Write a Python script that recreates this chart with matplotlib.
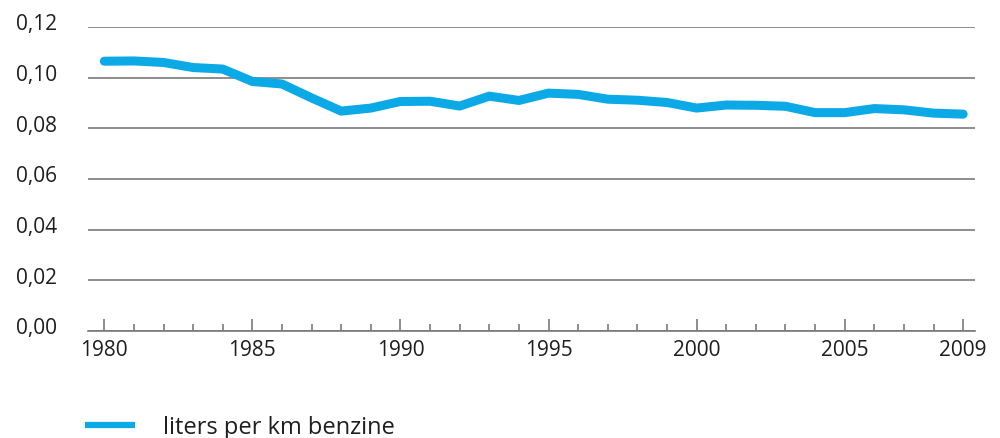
import numpy as np
import matplotlib
matplotlib.use('Agg')
import matplotlib.pyplot as plt
from matplotlib.lines import Line2D
from matplotlib.transforms import ScaledTranslation

# ── Data ──────────────────────────────────────────────────────────────────────
years = list(range(1980, 2010))
liters_per_km = [
    0.1065, 0.1066, 0.1060, 0.1040, 0.1034, 0.0985, 0.0975, 0.0920, 0.0868, 0.0880,
    0.0906, 0.0907, 0.0888, 0.0927, 0.0910, 0.0939, 0.0934, 0.0915, 0.0911, 0.0902,
    0.0880, 0.0892, 0.0891, 0.0887, 0.0862, 0.0862, 0.0878, 0.0873, 0.0860, 0.0856,
]
series_label = 'liters per km benzine'
x_labels = ['1980', '1985', '1990', '1995', '2000', '2005', '2009']
x_label_pos = [1980, 1985, 1990, 1995, 2000, 2005, 2009]
y_ticks = [0.00, 0.02, 0.04, 0.06, 0.08, 0.10, 0.12]
y_labels = ['0,00', '0,02', '0,04', '0,06', '0,08', '0,10', '0,12']

LINE_COLOR = '#0BA9E6'
GRID_COLOR = '#7a7a7a'
TEXT_COLOR = '#1e1e1e'

plt.rcParams.update({
    'font.family': ['Open Sans', 'DejaVu Sans'],
    'font.size': 15,
    'figure.facecolor': 'white',
    'axes.facecolor': 'white',
})

fig = plt.figure(figsize=(10, 4.39), dpi=100)
ax = fig.add_axes([0.088, 1 - 332 / 439, 0.975 - 0.088, (332 - 28) / 439])

ax.plot(years, liters_per_km, color=LINE_COLOR, lw=6.5,
        solid_capstyle='round', solid_joinstyle='round', zorder=3)

ax.set_xlim(1979.45, 2009.4)
ax.set_ylim(0, 0.12)

# horizontal grid
ax.set_yticks(y_ticks)
ax.set_yticklabels(y_labels, color=TEXT_COLOR, fontsize=15)
ax.grid(axis='y', color=GRID_COLOR, lw=1.2)
ax.tick_params(axis='y', length=0, pad=52)
for lab in ax.get_yticklabels():
    lab.set_horizontalalignment('left')
    lab.set_transform(lab.get_transform() + ScaledTranslation(0, 4 / 72, fig.dpi_scale_trans))

# x axis ticks pointing up
ax.set_xticks(x_label_pos)
ax.set_xticklabels(x_labels, color=TEXT_COLOR, fontsize=15)
ax.set_xticks(years, minor=True)
ax.tick_params(axis='x', which='major', direction='in', length=9, width=1.2,
               color=GRID_COLOR, pad=6)
ax.tick_params(axis='x', which='minor', direction='in', length=5, width=1.2,
               color=GRID_COLOR)

for s in ['top', 'right', 'left']:
    ax.spines[s].set_visible(False)
ax.spines['bottom'].set_color(GRID_COLOR)
ax.spines['bottom'].set_linewidth(1.2)
ax.set_axisbelow(True)

# legend below the plot
handle = Line2D([], [], color=LINE_COLOR, lw=4.5, solid_capstyle='butt')
fig.legend([handle], [series_label], loc='center left', bbox_to_anchor=(0.085, 0.025),
           frameon=False, fontsize=17, handlelength=2.12, handletextpad=1.18,
           borderpad=0, borderaxespad=0, labelcolor=TEXT_COLOR)

fig.savefig('out.png', dpi=100, facecolor='white')
